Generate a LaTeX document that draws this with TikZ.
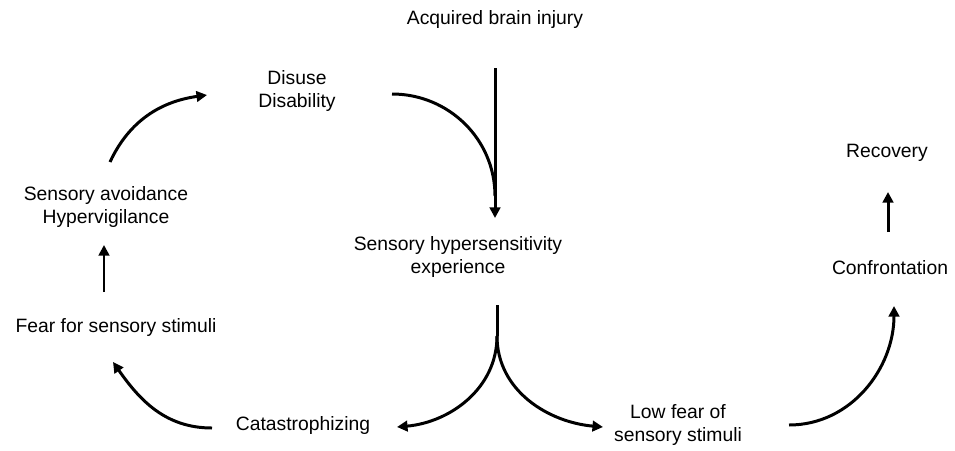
\documentclass[tikz,border=0pt]{standalone}
\usepackage{fontspec}
\setmainfont{Liberation Sans}
\usetikzlibrary{arrows.meta}
\definecolor{tinta}{HTML}{000000}
\tikzset{
 lbl/.style={align=center,inner sep=0pt,text=tinta,font=\fontsize{11}{13}\selectfont},
 arr/.style={tinta,line width=1.7pt,-{Triangle[length=6pt,width=6pt]}},
 lin/.style={tinta,line width=1.7pt},
}
\begin{document}
\begin{tikzpicture}[x=0.02cm,y=-0.02cm]
\useasboundingbox (0,0) rectangle (955,450);

\node[lbl] (inj) at (495,20) {Acquired brain injury};
\node[lbl] (dis) at (297,91) {Disuse\\Disability};
\node[lbl] (avo) at (106,207) {Sensory avoidance\\Hypervigilance};
\node[lbl] (hyp) at (458,257) {Sensory hypersensitivity\\experience};
\node[lbl] (rec) at (887,153) {Recovery};
\node[lbl] (con) at (890,268) {Confrontation};
\node[lbl] (fear) at (116,327) {Fear for sensory stimuli};
\node[lbl] (cat) at (303,425) {Catastrophizing};
\node[lbl] (low) at (678,425) {Low fear of\\sensory stimuli};

% free ends of the connectors
\coordinate (injb) at (495,68);
\coordinate (hypt) at (495,218);
\coordinate (disr) at (392,94);
\coordinate (disj) at (495,196);
\coordinate (hypb) at (497,305);
\coordinate (fork) at (497,336);
\coordinate (catr) at (397,427);
\coordinate (lowl) at (603,427);
\coordinate (catl) at (212,428);
\coordinate (fearr) at (113,362);
\coordinate (feart) at (104,292);
\coordinate (avob) at (104,245);
\coordinate (avot) at (110,162);
\coordinate (disl) at (207,95);
\coordinate (lowr) at (789,425);
\coordinate (cont) at (894,306);
\coordinate (conb) at (888,232);
\coordinate (recb) at (888,192);

\draw[arr] (injb) -- (hypt);
\draw[lin] (disr) to[out=0,in=90] (disj);
\draw[lin] (hypb) -- (fork);
\draw[arr] (fork) to[out=-90,in=5] (catr);
\draw[arr] (fork) to[out=-90,in=175] (lowl);
\draw[arr] (catl) to[out=180,in=-55] (fearr);
\draw[arr] (feart) -- (avob);
\draw[arr] (avot) to[out=65,in=188] (disl);
\draw[arr] (lowr) to[out=0,in=-90] (cont);
\draw[arr] (conb) -- (recb);

\end{tikzpicture}
\end{document}
